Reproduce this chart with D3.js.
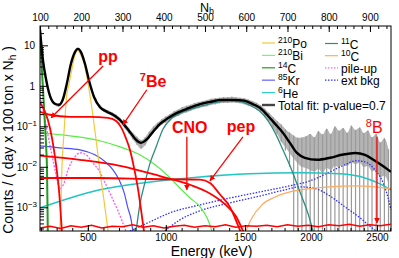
<!DOCTYPE html>
<html>
<head>
<meta charset="utf-8">
<script src="https://cdnjs.cloudflare.com/ajax/libs/d3/7.8.5/d3.min.js"></script>
<style>
  body { margin: 0; background: #fff; }
  svg { font-family: "Liberation Sans", Arial, Helvetica, sans-serif; }
</style>
</head>
<body>
<div id="chart"></div>
<script>
// ---- axis data -------------------------------------------------------------
const nhTicks = [100, 200, 300, 400, 500, 600, 700, 800, 900];
const energyTicks = [500, 1000, 1500, 2000, 2500];     // keV
const energyTickNh = [216, 405, 597, 757, 917];         // where they sit on the Nh axis
const yTicks = [1e-3, 1e-2, 1e-1, 1, 10];

// ---- data histogram (Nh bins of 10, starting at 105) ------------------------
const dataStartNh = 105, dataStepNh = 10;
const dataCounts = [6.5, 1.5, 0.55, 0.37, 0.33, 0.46, 1.15, 3.4, 7.0, 7.8,
  4.6, 2.0, 0.85, 0.45, 0.31, 0.25, 0.225, 0.20, 0.172, 0.14,
  0.105, 0.079, 0.058, 0.045, 0.037, 0.044, 0.062, 0.085, 0.105, 0.13,
  0.15, 0.17, 0.20, 0.22, 0.25, 0.27, 0.29, 0.32, 0.34, 0.36,
  0.38, 0.41, 0.42, 0.44, 0.45, 0.45, 0.46, 0.45, 0.44, 0.42,
  0.39, 0.36, 0.32, 0.28, 0.22, 0.175, 0.13, 0.10, 0.076, 0.055,
  0.040, 0.029, 0.022, 0.018, 0.017, 0.015, 0.014, 0.016, 0.013, 0.017,
  0.015, 0.019, 0.018, 0.021, 0.019, 0.024, 0.021, 0.023, 0.018, 0.019,
  0.014, 0.015, 0.010, 0.011, 0.007];
const dataErr = [0.4, 0.1, 0.04, 0.03, 0.03, 0.04, 0.08, 0.2, 0.35, 0.4,
  0.25, 0.12, 0.06, 0.04, 0.03, 0.025, 0.025, 0.022, 0.02, 0.018,
  0.015, 0.013, 0.011, 0.01, 0.009, 0.01, 0.012, 0.014, 0.017, 0.02,
  0.025, 0.03, 0.035, 0.04, 0.045, 0.05, 0.05, 0.055, 0.06, 0.06,
  0.065, 0.07, 0.07, 0.07, 0.075, 0.075, 0.075, 0.07, 0.07, 0.07,
  0.07, 0.06, 0.06, 0.05, 0.05, 0.04, 0.04, 0.035, 0.035, 0.03,
  0.03, 0.03, 0.03, 0.035, 0.04, 0.05, 0.04, 0.06, 0.05, 0.07,
  0.05, 0.08, 0.06, 0.07, 0.05, 0.08, 0.06, 0.07, 0.05, 0.06,
  0.04, 0.05, 0.03, 0.04, 0.02];

// ---- fit components: [Nh, counts] -------------------------------------------
const totalFit = [[100, 24], [107, 4.4], [115, 1.4], [124, 0.57], [136, 0.36], [146, 0.34],
  [156, 0.48], [165, 1.12], [175, 3.5], [185, 6.9], [192, 8.2], [199, 6.9], [209, 3.5],
  [219, 1.33], [231, 0.53], [245, 0.30], [262, 0.23], [282, 0.18], [296, 0.137],
  [308, 0.097], [321, 0.066], [333, 0.046], [345, 0.039], [357, 0.046], [372, 0.069],
  [391, 0.115], [408, 0.153], [432, 0.215], [456, 0.27], [483, 0.34], [512, 0.40],
  [541, 0.45], [570, 0.45], [595, 0.43], [614, 0.36], [633, 0.287], [653, 0.18], [670, 0.115],
  [687, 0.073], [706, 0.039], [723, 0.022], [742, 0.0167], [772, 0.0149], [803, 0.0167],
  [832, 0.0198], [864, 0.022], [888, 0.0198], [912, 0.0141], [934, 0.010], [951, 0.0075]];
const po210 = [[148, 2.6e-4], [151, 0.0015], [153, 0.0084], [157, 0.0465], [161, 0.193],
  [165, 0.6], [170, 1.06], [178, 2.8], [185, 5.8], [192, 7.5], [199, 5.8], [207, 3.5],
  [214, 1.6], [221, 0.6], [228, 0.193], [236, 0.0465], [245, 0.0084], [255, 0.0015], [265, 2.6e-4]];
const bi210 = [[100, 0.069], [173, 0.058], [245, 0.044], [294, 0.031], [342, 0.0198],
  [379, 0.0112], [408, 0.0063], [439, 0.003], [464, 0.0017], [488, 0.00103], [505, 0.00055], [517, 2.6e-4]];
const c14 = [[100, 16], [103, 5], [106, 1.4], [109, 0.4], [112, 0.11], [115, 0.03],
  [117, 0.008], [118, 0.0015], [119, 0.0002]];
const kr85 = [[100, 0.033], [148, 0.0295], [197, 0.0263], [233, 0.0198], [258, 0.0133],
  [277, 0.0084], [292, 0.0047], [304, 0.0023], [313, 0.00097], [321, 0.00049], [325, 2.6e-4]];
const he6 = [[100, 0.00097], [173, 0.0017], [245, 0.0027], [367, 0.0042], [488, 0.0056],
  [609, 0.0067], [730, 0.0071], [827, 0.0067], [888, 0.0053], [924, 0.0038], [951, 0.0027]];
const c11 = [[333, 2.6e-4], [342, 0.00115], [355, 0.0043], [367, 0.0125], [381, 0.03],
  [398, 0.085], [420, 0.16], [444, 0.22], [468, 0.27], [498, 0.33], [527, 0.39], [556, 0.42],
  [585, 0.41], [609, 0.33], [633, 0.235], [653, 0.137], [670, 0.069], [689, 0.0263], [706, 0.0106],
  [723, 0.0038], [738, 0.0015], [750, 0.00069], [762, 2.6e-4]];
const c10 = [[599, 2.6e-4], [614, 0.00055], [638, 0.00115], [670, 0.0018], [706, 0.0024],
  [755, 0.0029], [803, 0.0032], [864, 0.0034], [912, 0.0032], [951, 0.0029]];
const pileUp = [[100, 0.54], [110, 0.193], [119, 0.062], [129, 0.0198], [139, 0.0063],
  [148, 0.0029], [158, 0.0039], [168, 0.0084], [183, 0.0167], [197, 0.0222], [212, 0.0198],
  [226, 0.0133], [245, 0.0075], [260, 0.0036], [275, 0.0017], [289, 0.00082], [299, 0.00046], [308, 2.6e-4]];
const extTl = [[318, 2.6e-4], [367, 0.00044], [415, 0.00073], [488, 0.00115], [561, 0.0017],
  [633, 0.0024], [706, 0.0034], [755, 0.0045], [803, 0.0075], [839, 0.0112], [868, 0.0141],
  [888, 0.0133], [912, 0.0084], [932, 0.004], [944, 0.0017], [951, 0.00086]];
const extBi = [[403, 2.6e-4], [439, 0.00049], [488, 0.00082], [561, 0.00129], [633, 0.0019],
  [694, 0.0027], [730, 0.0032], [767, 0.0029], [803, 0.0019], [839, 0.00103], [876, 0.00055],
  [905, 0.00031], [915, 2.6e-4]];
// neutrino signals
const pp = [[100, 0.38], [110, 0.255], [119, 0.145], [129, 0.052], [139, 0.011], [146, 0.0027], [153, 2.6e-4]];
const be7 = [[100, 0.228], [124, 0.193], [173, 0.172], [221, 0.172], [265, 0.162], [284, 0.137],
  [296, 0.097], [308, 0.052], [318, 0.0263], [328, 0.0094], [338, 0.0027], [345, 0.00086], [352, 2.6e-4]];
const cno = [[100, 0.0188], [197, 0.0149], [294, 0.0106], [391, 0.0059], [464, 0.0036],
  [512, 0.0022], [548, 0.0012], [575, 0.0006], [597, 0.0002]];
const pep = [[100, 0.0053], [245, 0.0053], [367, 0.0050], [488, 0.0048], [512, 0.0040],
  [536, 0.0021], [561, 0.0010], [580, 0.00036], [590, 0.0002]];
const b8 = [[100, 3.1e-4], [125, 3.4e-4], [150, 3.0e-4], [175, 3.5e-4], [200, 3.2e-4], [225, 3.6e-4],
  [250, 3.1e-4], [275, 3.4e-4], [300, 3.3e-4], [325, 3.7e-4], [350, 3.2e-4], [375, 3.5e-4],
  [400, 3.1e-4], [425, 3.4e-4], [450, 3.6e-4], [475, 3.2e-4], [500, 3.5e-4], [525, 3.3e-4],
  [550, 3.7e-4], [575, 3.2e-4], [600, 3.5e-4], [625, 3.4e-4], [650, 3.6e-4], [675, 3.3e-4],
  [700, 3.7e-4], [725, 3.4e-4], [750, 3.6e-4], [775, 3.3e-4], [800, 3.7e-4], [825, 3.5e-4],
  [850, 3.8e-4], [875, 3.4e-4], [900, 3.7e-4], [925, 3.5e-4], [950, 3.8e-4]];

// signal labels and arrows, in [Nh, counts]
const signalLabels = [
  {sup: "", text: "pp", at: [241, 3.9], from: [253, 3.1], to: [127, 0.162], bold: true},
  {sup: "7", text: "Be", at: [342, 0.945], from: [359, 0.8], to: [301, 0.109], bold: true},
  {sup: "", text: "CNO", at: [420, 0.069], from: [456, 0.055], to: [456, 0.0027], bold: true},
  {sup: "", text: "pep", at: [553, 0.073], from: [592, 0.055], to: [512, 0.0045], bold: true},
  {sup: "8", text: "B", at: [890, 0.069], from: [917, 0.055], to: [917, 0.00041], bold: false}
];

// ---- setup ---------------------------------------------------------------
const W = 399, H = 258;
const M = {left: 40, top: 26, right: 8, bottom: 27};

const svg = d3.select("#chart").append("svg")
  .attr("width", W).attr("height", H);

const x = d3.scaleLinear().domain([100, 951]).range([M.left, W - M.right]);
const y = d3.scaleLog().domain([2.6e-4, 30]).range([H - M.bottom, M.top]);
// energy axis is not linear in Nh, so map it through the calibration points
const xE = d3.scaleLinear().domain(energyTicks).range(energyTickNh.map(x));

svg.append("clipPath").attr("id", "plotClip")
  .append("rect")
  .attr("x", M.left).attr("y", M.top)
  .attr("width", W - M.left - M.right).attr("height", H - M.top - M.bottom);

const plot = svg.append("g").attr("clip-path", "url(#plotClip)");

// data with errors
const bins = dataCounts.map((v, i) => ({nh: dataStartNh + i * dataStepNh, v: v, e: dataErr[i]}));

plot.append("path")
  .datum(bins)
  .attr("fill", "#b4b4b4")
  .attr("d", d3.area()
    .x(d => x(d.nh))
    .y0(d => y(Math.max(d.v - d.e, d.v * 0.55)))
    .y1(d => y(d.v + d.e))
    .curve(d3.curveMonotoneX));

plot.selectAll(".errbar")
  .data(bins)
  .enter()
  .append("line")
  .attr("class", "errbar")
  .attr("x1", d => x(d.nh)).attr("x2", d => x(d.nh))
  .attr("y1", d => y(d.v + d.e))
  .attr("y2", d => d.v - d.e > 0 ? y(d.v - d.e) : H)
  .attr("stroke", "#9a9a9a")
  .attr("stroke-width", 1.2);

const line = d3.line()
  .x(d => x(d[0]))
  .y(d => y(d[1]))
  .curve(d3.curveMonotoneX);

function drawCurve(pts, color, width, dash) {
  plot.append("path")
    .datum(pts)
    .attr("fill", "none")
    .attr("stroke", color)
    .attr("stroke-width", width)
    .attr("stroke-dasharray", dash || null)
    .attr("d", line);
}

drawCurve(extTl, "#3030ff", 1.3, "1.5,1.5");
drawCurve(extBi, "#3030ff", 1.3, "1.5,1.5");
drawCurve(pileUp, "#ff55ff", 1.3, "2,1.5");
drawCurve(bi210, "#55ee44", 1.2);
drawCurve(kr85, "#4d4dff", 1.2);
drawCurve(he6, "#22c4c4", 1.5);
drawCurve(c10, "#ffaa60", 1.2);
drawCurve(c11, "#2e8b80", 1.3);
drawCurve(po210, "#f5c83c", 1.2);
drawCurve(c14, "#229922", 2);
drawCurve(cno, "#ff0000", 1.8);
drawCurve(pep, "#ff0000", 1.8);
drawCurve(be7, "#ff0000", 1.8);
drawCurve(pp, "#ff0000", 1.8);
plot.append("path")
  .datum(b8)
  .attr("fill", "none")
  .attr("stroke", "#ff0000")
  .attr("stroke-width", 1.5)
  .attr("d", d3.line().x(d => x(d[0])).y(d => y(d[1])));
drawCurve(totalFit, "#000", 2.4);

// ---- arrows and labels ---------------------------------------------------
svg.append("defs").append("marker")
  .attr("id", "head")
  .attr("viewBox", "0 0 10 10")
  .attr("refX", 9).attr("refY", 5)
  .attr("markerWidth", 4.5).attr("markerHeight", 4.5)
  .attr("orient", "auto")
  .append("path")
  .attr("d", "M0,0 L10,5 L0,10 z")
  .attr("fill", "#ff0000");

const ann = svg.append("g");
signalLabels.forEach(s => {
  ann.append("line")
    .attr("x1", x(s.from[0])).attr("y1", y(s.from[1]))
    .attr("x2", x(s.to[0])).attr("y2", y(s.to[1]))
    .attr("stroke", "#ff0000")
    .attr("stroke-width", 1.3)
    .attr("marker-end", "url(#head)");
  const t = ann.append("text")
    .attr("x", x(s.at[0])).attr("y", y(s.at[1]))
    .attr("fill", "#ff0000")
    .attr("font-size", 16)
    .attr("font-weight", s.bold ? "bold" : "normal");
  if (s.sup) t.append("tspan").attr("font-size", 11).attr("dy", -6).text(s.sup);
  t.append("tspan").attr("dy", s.sup ? 6 : 0).text(s.text);
});

// ---- axes ------------------------------------------------------------------
const axes = svg.append("g").attr("font-size", 11);

// top: Nh
axes.append("g").attr("transform", `translate(0,${M.top})`)
  .call(d3.axisTop(x).tickValues(nhTicks).tickSize(-6).tickSizeOuter(0).tickPadding(5));
axes.append("g").attr("transform", `translate(0,${M.top})`)
  .call(d3.axisTop(x).tickValues(d3.range(100, 951, 20)).tickSize(-3).tickSizeOuter(0).tickFormat(""));

// bottom: energy
axes.append("g").attr("transform", `translate(0,${H - M.bottom})`)
  .call(d3.axisBottom(xE).tickValues(energyTicks).tickSize(-6).tickSizeOuter(0).tickPadding(3)
    .tickFormat(d3.format("d")));
axes.append("g").attr("transform", `translate(0,${H - M.bottom})`)
  .call(d3.axisBottom(xE).tickValues(d3.range(200, 2700, 100).filter(e => xE(e) > M.left && xE(e) < W - M.right))
    .tickSize(-3).tickSizeOuter(0).tickFormat(""));

// left: log counts
const leftAxis = axes.append("g").attr("transform", `translate(${M.left},0)`)
  .call(d3.axisLeft(y).tickValues(yTicks).tickSize(-8).tickSizeOuter(0).tickPadding(4));
leftAxis.selectAll(".tick text").each(function(d) {
  const t = d3.select(this).text("");
  const p = Math.round(Math.log10(d));
  if (p === 0) { t.text("1"); return; }
  t.append("tspan").text("10");
  if (p < 0) t.append("tspan").attr("font-size", 8).attr("dy", "-0.55em").text("\u2212" + (-p));
});
leftAxis.selectAll(".tick text").attr("x", d => Math.log10(d) < 0 ? -3 : -5);
const minorY = [];
[1e-4, 1e-3, 1e-2, 1e-1, 1, 10].forEach(dec => d3.range(2, 10).forEach(k => minorY.push(dec * k)));
axes.append("g").attr("transform", `translate(${M.left},0)`)
  .call(d3.axisLeft(y).tickValues(minorY.filter(v => v > 2.6e-4 && v < 30)).tickSize(-4).tickSizeOuter(0).tickFormat(""));

axes.selectAll(".domain").remove();
axes.selectAll(".tick line").attr("stroke", "#000");

// frame
svg.append("rect")
  .attr("x", M.left).attr("y", M.top)
  .attr("width", W - M.left - M.right).attr("height", H - M.top - M.bottom)
  .attr("fill", "none").attr("stroke", "#000").attr("stroke-width", 1);

// axis titles
const nhTitle = svg.append("text")
  .attr("x", 200).attr("y", 11.5)
  .attr("font-size", 12.5);
nhTitle.append("tspan").text("N");
nhTitle.append("tspan").attr("font-size", 9).attr("dy", 2).text("h");

svg.append("text")
  .attr("x", (M.left + W - M.right) / 2 - 4).attr("y", 256)
  .attr("text-anchor", "middle")
  .attr("font-size", 14)
  .text("Energy (keV)");

const yTitle = svg.append("text")
  .attr("transform", "translate(13,140) rotate(-90)")
  .attr("text-anchor", "middle")
  .attr("font-size", 14);
yTitle.append("tspan").text("Counts / ( day x 100 ton x N");
yTitle.append("tspan").attr("font-size", 10).attr("dy", 3).text("h");
yTitle.append("tspan").attr("dy", -3).text(" )");

// ---- legend ----------------------------------------------------------------
const legendCol1 = [
  {sup: "210", name: "Po", color: "#f5c83c", dash: null, w: 1.2},
  {sup: "210", name: "Bi", color: "#66ff66", dash: null, w: 1.2},
  {sup: "14", name: "C", color: "#229922", dash: null, w: 1.2},
  {sup: "85", name: "Kr", color: "#8080ff", dash: null, w: 1.5},
  {sup: "6", name: "He", color: "#33cccc", dash: null, w: 1.2},
  {sup: "", name: "Total fit: p-value=0.7", color: "#444", dash: null, w: 2.4}
];
const legendCol2 = [
  {sup: "11", name: "C", color: "#2e8b80", dash: null, w: 1.2},
  {sup: "10", name: "C", color: "#ffaa60", dash: null, w: 1.2},
  {sup: "", name: "pile-up", color: "#ff66ff", dash: "1.5,1.5", w: 1.4},
  {sup: "", name: "ext bkg", color: "#3030ff", dash: "1.5,1.5", w: 1.2}
];

function drawLegend(items, x0, y0, dy) {
  const g = svg.append("g").attr("font-size", 12);
  items.forEach((it, i) => {
    const yy = y0 + i * dy;
    g.append("line")
      .attr("x1", x0).attr("x2", x0 + 13)
      .attr("y1", yy).attr("y2", yy)
      .attr("stroke", it.color)
      .attr("stroke-width", it.w)
      .attr("stroke-dasharray", it.dash);
    const t = g.append("text").attr("x", x0 + 16).attr("y", yy + 5);
    if (it.sup) t.append("tspan").attr("font-size", 8.5).attr("dy", -5).text(it.sup);
    t.append("tspan").attr("dy", it.sup ? 5 : 0).text(it.name);
  });
}
drawLegend(legendCol1, 262, 43, 12.4);
drawLegend(legendCol2, 325, 43.5, 12.2);
</script>
</body>
</html>
